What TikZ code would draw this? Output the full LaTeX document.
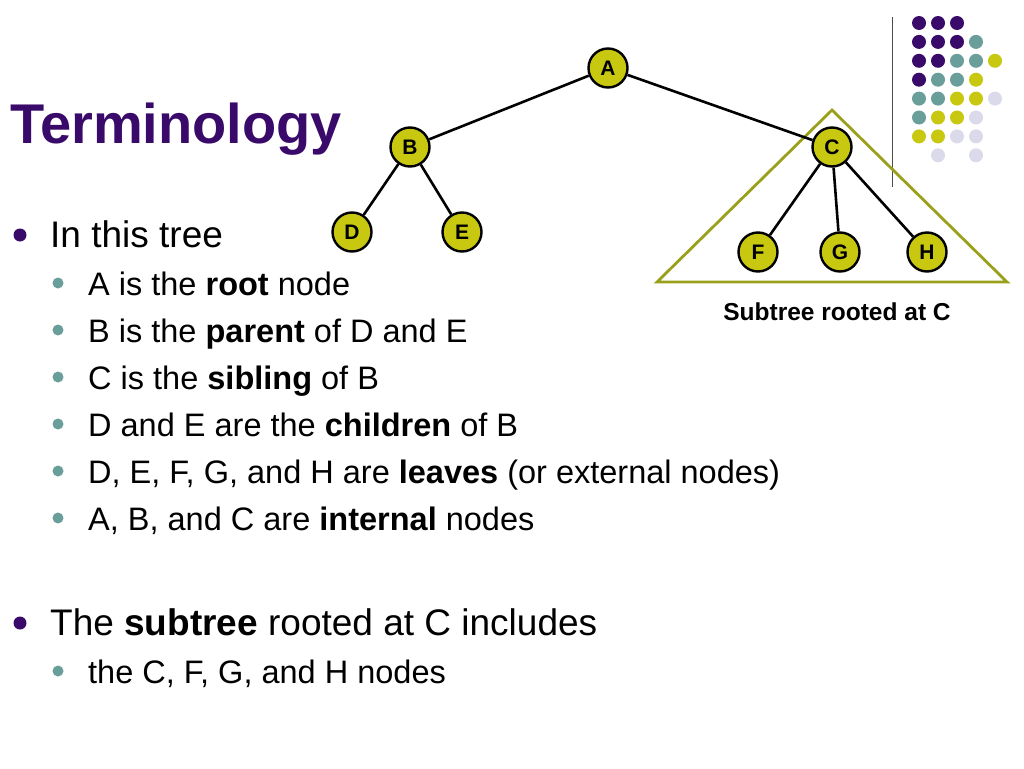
\documentclass[tikz,border=0pt]{standalone}
\usepackage{fontspec}
\setmainfont{Liberation Sans}
\definecolor{dpurple}{HTML}{3A0A6A}
\definecolor{dteal}{HTML}{6A9E9A}
\definecolor{dyellow}{HTML}{C8C810}
\definecolor{dlilac}{HTML}{DADAEA}
\definecolor{olive}{HTML}{9AA01C}
\tikzset{
  tnode/.style={circle, draw=black, line width=2.4pt, fill=dyellow, minimum size=39pt, inner sep=0pt, font=\fontsize{21}{21}\selectfont\bfseries},
  edge/.style={line width=2.6pt},
  lone/.style={anchor=base west, inner sep=0pt, font=\fontsize{37}{37}\selectfont},
  ltwo/.style={anchor=base west, inner sep=0pt, font=\fontsize{32.5}{32.5}\selectfont},
}
\begin{document}
\begin{tikzpicture}[x=1pt,y=-1pt]
    \useasboundingbox (0,0) rectangle (1024,768);

    % title
    \node[anchor=base west, inner sep=0pt, text=dpurple, font=\fontsize{56}{56}\selectfont\bfseries] (title) at (10,143) {Terminology};

    % decoration dots
    \draw[black!70, line width=1pt] (892,17) -- (892,187);
    \foreach \r/\row in {0/{1,1,1,0,0},1/{1,1,1,2,0},2/{1,1,2,2,3},3/{1,2,2,3,0},4/{2,2,3,3,4},5/{2,3,3,4,0},6/{3,3,4,4,0},7/{0,4,0,4,0}}{
      \foreach [count=\c from 0] \v in \row {
        \ifcase\v\or
          \fill[dpurple] (919+19*\c,23+18.9*\r) circle (7pt);
        \or
          \fill[dteal] (919+19*\c,23+18.9*\r) circle (7pt);
        \or
          \fill[dyellow] (919+19*\c,23+18.9*\r) circle (7pt);
        \or
          \fill[dlilac] (919+19*\c,23+18.9*\r) circle (7pt);
        \fi
      }
    }

    % subtree triangle
    \draw[olive, line width=2.8pt, line join=miter] (832,110) -- (1007,282) -- (657,282) -- cycle;

    % tree
    \node[tnode] (A) at (608,68) {A};
    \node[tnode] (B) at (410,147) {B};
    \node[tnode] (C) at (832,147) {C};
    \node[tnode] (D) at (352,232) {D};
    \node[tnode] (E) at (462,232) {E};
    \node[tnode] (F) at (758,252) {F};
    \node[tnode] (G) at (840,252) {G};
    \node[tnode] (H) at (927,252) {H};
    \draw[edge] (A) -- (B);
    \draw[edge] (A) -- (C);
    \draw[edge] (B) -- (D);
    \draw[edge] (B) -- (E);
    \draw[edge] (C) -- (F);
    \draw[edge] (C) -- (G);
    \draw[edge] (C) -- (H);
    \node[font=\fontsize{24.5}{24.5}\selectfont\bfseries] (sublabel) at (837,312) {Subtree rooted at C};

    % bullets
    \foreach \y in {235,623} \fill[dpurple] (20,\y) circle (6.5pt);
    \foreach \y in {283,330,377,424,471,518,671} \fill[dteal] (58,\y) circle (5.5pt);

    \node[lone] (l1) at (50,247) {In this tree};
    \node[ltwo] (l2) at (88,295) {A is the \textbf{root} node};
    \node[ltwo] (l3) at (88,342) {B is the \textbf{parent} of D and E};
    \node[ltwo] (l4) at (88,389) {C is the \textbf{sibling} of B};
    \node[ltwo] (l5) at (88,436) {D and E are the \textbf{children} of B};
    \node[ltwo] (l6) at (88,483) {D, E, F, G, and H are \textbf{leaves} (or external nodes)};
    \node[ltwo] (l7) at (88,530) {A, B, and C are \textbf{internal} nodes};
    \node[lone] (l8) at (50,635) {The \textbf{subtree} rooted at C includes};
    \node[ltwo] (l9) at (88,683) {the C, F, G, and H nodes};
\end{tikzpicture}
\end{document}
